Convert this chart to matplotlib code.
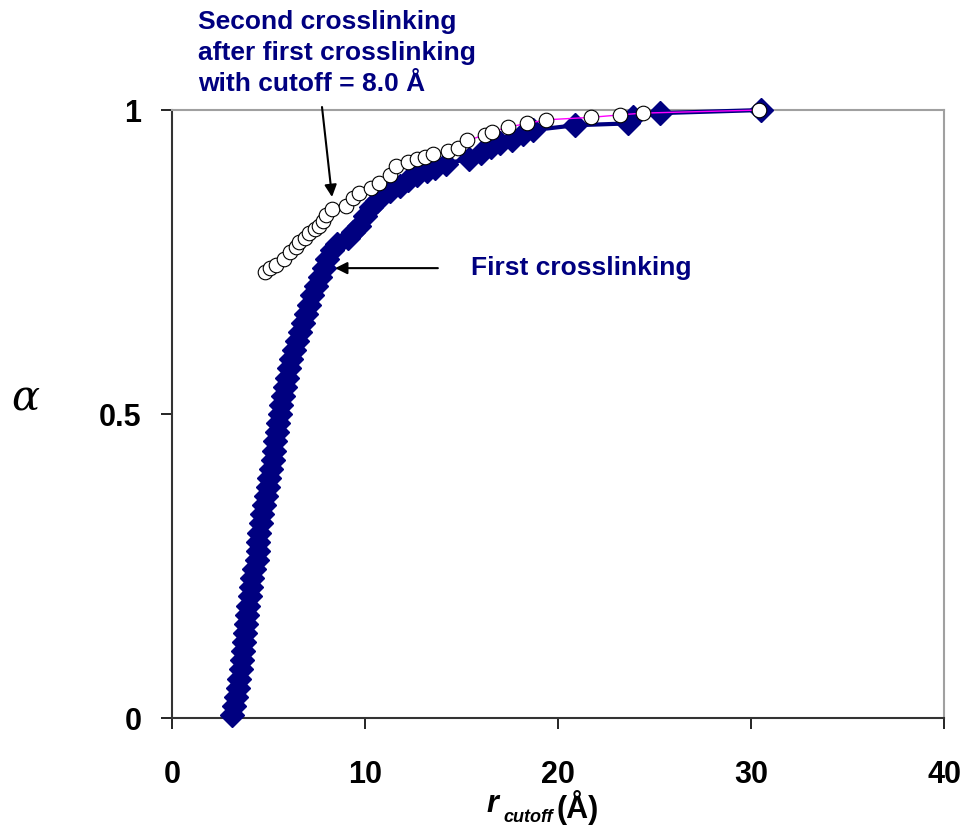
import numpy as np
import matplotlib.pyplot as plt

plt.rcParams['font.family'] = ['Liberation Sans', 'DejaVu Sans']

# first crosslinking: r_cutoff vs alpha
r_first = [3.09, 3.20, 3.30, 3.40, 3.48, 3.55, 3.62, 3.68, 3.74, 3.79,
           3.84, 3.90, 3.95, 4.02, 4.08, 4.14, 4.25, 4.38, 4.44, 4.48,
           4.53, 4.60, 4.68, 4.76, 4.85, 4.95, 5.04, 5.13, 5.22, 5.30,
           5.36, 5.42, 5.50, 5.58, 5.65, 5.75, 5.84, 5.95, 6.05, 6.18,
           6.32, 6.48, 6.62, 6.76, 6.92, 7.08, 7.25, 7.45, 7.65, 7.85,
           8.05, 8.30, 8.55, 9.10, 9.40, 9.70, 10.0, 10.3, 10.6, 10.9,
           11.3, 11.8, 12.2, 12.7, 13.2, 13.6, 14.2, 15.4, 16.0, 16.5,
           17.0, 17.6, 18.2, 18.7, 20.9, 23.6, 23.9, 25.3, 30.5]
a_first = [0.005, 0.02, 0.035, 0.05, 0.065, 0.08, 0.095, 0.11, 0.125, 0.14,
           0.155, 0.17, 0.185, 0.20, 0.215, 0.23, 0.245, 0.26, 0.275, 0.29,
           0.305, 0.32, 0.335, 0.35, 0.365, 0.38, 0.395, 0.41, 0.425, 0.44,
           0.455, 0.47, 0.485, 0.50, 0.515, 0.53, 0.545, 0.56, 0.575, 0.59,
           0.605, 0.62, 0.635, 0.65, 0.665, 0.68, 0.695, 0.71, 0.725, 0.74,
           0.755, 0.77, 0.78, 0.79, 0.80, 0.81, 0.825, 0.84, 0.85, 0.86,
           0.867, 0.875, 0.885, 0.893, 0.90, 0.905, 0.912, 0.92, 0.93, 0.94,
           0.945, 0.95, 0.96, 0.967, 0.975, 0.978, 0.988, 0.995, 1.0]

# second crosslinking after first crosslinking (cutoff = 8.0 A)
r_second = [4.8, 5.1, 5.4, 5.8, 6.1, 6.4, 6.6, 6.9, 7.1, 7.4,
            7.6, 7.8, 8.0, 8.3, 9.0, 9.4, 9.7, 10.3, 10.7, 11.3,
            11.6, 12.2, 12.7, 13.1, 13.5, 14.3, 14.8, 15.3, 16.2, 16.6,
            17.4, 18.4, 19.4, 21.7, 23.2, 24.4, 30.4]
a_second = [0.734, 0.740, 0.745, 0.755, 0.766, 0.775, 0.783, 0.790, 0.797, 0.804,
            0.810, 0.818, 0.827, 0.838, 0.843, 0.855, 0.863, 0.871, 0.880, 0.893,
            0.908, 0.914, 0.919, 0.923, 0.927, 0.932, 0.937, 0.950, 0.959, 0.964,
            0.972, 0.978, 0.984, 0.988, 0.992, 0.995, 1.0]

navy = '#000080'

fig = plt.figure(figsize=(9.67, 8.30), dpi=100)
ax = fig.add_axes([0.1779, 0.1349, 0.7984, 0.7325])

ax.plot(r_first, a_first, color=navy, lw=3, marker='D', markersize=12,
        markerfacecolor=navy, markeredgecolor=navy, clip_on=False, zorder=3)
ax.plot(r_second, a_second, color='#ff00ff', lw=1, marker='o', markersize=10.5,
        markerfacecolor='white', markeredgecolor='black', markeredgewidth=0.8,
        clip_on=False, zorder=4)

ax.set_xlim(0, 40)
ax.set_ylim(0, 1)
ax.set_xticks([0, 10, 20, 30, 40])
ax.set_yticks([0, 0.5, 1])
ax.set_yticklabels(['0', '0.5', '1'])
ax.tick_params(direction='out', length=8, width=1.2, labelsize=22)
ax.tick_params(axis='x', pad=22)
ax.tick_params(axis='y', pad=14)
for lab in ax.get_xticklabels() + ax.get_yticklabels():
    lab.set_fontweight('bold')

for s in ['left', 'bottom']:
    ax.spines[s].set_color('#333333')
    ax.spines[s].set_linewidth(1.5)
for s in ['top', 'right']:
    ax.spines[s].set_color('#a0a0a0')
    ax.spines[s].set_linewidth(1.5)

# axis labels
fig.text(0.012, 0.52, 'α', fontsize=30, ha='left', va='center',
         family='DejaVu Serif', style='italic')
fig.text(0.503, 0.0217, 'r', fontsize=22, fontweight='bold', style='italic')
fig.text(0.521, 0.0096, 'cutoff', fontsize=13, fontweight='bold', style='italic')
fig.text(0.575, 0.014, '(Å)', fontsize=22, fontweight='bold')

# annotations
ax.annotate('First crosslinking', xy=(8.45, 0.74), xytext=(15.5, 0.74),
            color=navy, fontsize=19, fontweight='bold', va='center',
            arrowprops=dict(arrowstyle='-|>', color='black', lw=1.5,
                            shrinkA=22, shrinkB=0, mutation_scale=18))
ax.annotate('', xy=(8.29, 0.857), xytext=(7.77, 1.005),
            arrowprops=dict(arrowstyle='-|>', color='black', lw=1.5,
                            shrinkA=0, shrinkB=0, mutation_scale=18),
            annotation_clip=False)
fig.text(0.205, 0.988, 'Second crosslinking\nafter first crosslinking\nwith cutoff = 8.0 Å',
         color=navy, fontsize=19, fontweight='bold', va='top', ha='left',
         linespacing=1.38)

fig.savefig('out.png', dpi=100)
